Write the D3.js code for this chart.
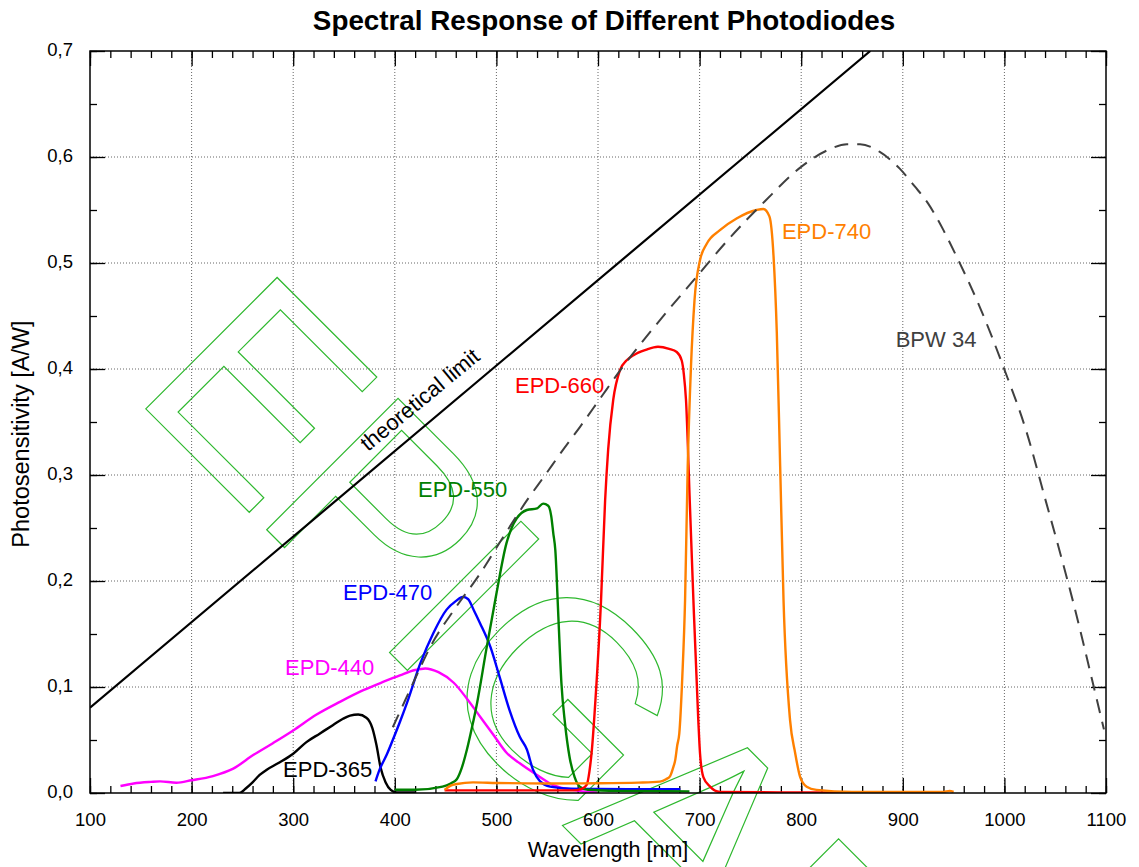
<!DOCTYPE html>
<html><head><meta charset="utf-8">
<script src="https://cdn.jsdelivr.net/npm/d3@7"></script>
<style>
body{margin:0;background:#fff}
svg{display:block}
text{font-family:"Liberation Sans",Arial,sans-serif}
</style>
</head><body>
<svg id="chart" width="1139" height="867"></svg>
<script>
// ---------- data ----------
const chartTitle = "Spectral Response of Different Photodiodes";
const xAxisTitle = "Wavelength [nm]";
const yAxisTitle = "Photosensitivity [A/W]";

const xTickValues = [100,200,300,400,500,600,700,800,900,1000,1100];
const xTickLabels = ["100","200","300","400","500","600","700","800","900","1000","1100"];
const yTickValues = [0,0.1,0.2,0.3,0.4,0.5,0.6,0.7];
const yTickLabels = ["0,0","0,1","0,2","0,3","0,4","0,5","0,6","0,7"];

const theoreticalLimit = [[100,0.0806],[868,0.700]];

const bpw34 = [[398,0.062],[410,0.087],[422,0.112],[435,0.138],[460,0.175],[484,0.207],[507,0.242],[530,0.276],[548,0.300],[565,0.323],[582,0.345],[602,0.372],[622,0.399],[660,0.445],[697,0.487],[730,0.524],[764,0.558],[799,0.590],[825,0.606],[845,0.612],[858,0.612],[877,0.605],[897,0.589],[912,0.572],[925,0.556],[940,0.531],[953,0.506],[976,0.458],[999,0.402],[1022,0.340],[1040,0.278],[1055,0.226],[1068,0.179],[1087,0.104],[1098,0.060]];

const epd365 = [[231,0.0],[247,0.0],[253,0.004],[260,0.010],[267,0.017],[274,0.022],[285,0.028],[300,0.037],[313,0.048],[326,0.056],[339,0.064],[349,0.070],[356,0.073],[364,0.074],[372,0.071],[378,0.061],[382,0.045],[386,0.024],[391,0.010],[396,0.003],[402,0.0005],[420,0.0005]];

const epd440 = [[130,0.0066],[143,0.009],[160,0.0105],[169,0.011],[185,0.0097],[200,0.012],[221,0.016],[241,0.023],[261,0.036],[280,0.047],[300,0.059],[323,0.074],[346,0.086],[369,0.097],[389,0.105],[405,0.111],[420,0.116],[430,0.1175],[443,0.114],[458,0.104],[471,0.089],[484,0.072],[497,0.055],[510,0.038],[523,0.028],[540,0.017],[556,0.0075],[575,0.003],[599,0.0005]];

const epd470 = [[381,0.011],[385,0.022],[392,0.036],[398,0.050],[405,0.067],[412,0.085],[425,0.122],[438,0.151],[451,0.173],[460,0.181],[467,0.185],[472,0.183],[478,0.172],[484,0.160],[494,0.138],[503,0.110],[513,0.078],[523,0.053],[530,0.041],[536,0.022],[543,0.011],[553,0.006],[569,0.0044],[600,0.0038],[640,0.0035],[681,0.0035]];

const epd550 = [[400,0.003],[420,0.003],[447,0.006],[455,0.009],[461,0.013],[466,0.024],[471,0.041],[476,0.062],[481,0.085],[490,0.135],[500,0.188],[510,0.236],[515,0.250],[520,0.259],[530,0.267],[540,0.2685],[546,0.273],[551,0.271],[554,0.261],[556,0.245],[558,0.229],[561,0.166],[564,0.1035],[567.5,0.066],[572,0.034],[577,0.015],[582,0.006],[590,0.003],[620,0.002],[690,0.0015]];

const epd660 = [[449,0.0025],[520,0.0025],[575,0.0025],[584,0.004],[589,0.008],[591.5,0.02],[594,0.041],[597.5,0.088],[603,0.182],[607,0.276],[610,0.324],[615,0.371],[621.6,0.399],[628,0.408],[635,0.413],[647,0.418],[659,0.421],[670,0.419],[677.5,0.416],[682.4,0.408],[684.5,0.395],[686.6,0.371],[690.3,0.276],[693.9,0.182],[698.7,0.069],[700.4,0.0375],[703.7,0.015],[710.3,0.006],[720,0.001],[780,0.0005],[853,0.0005]];

const epd740 = [[449,0.003],[455,0.007],[461,0.0085],[477,0.010],[500,0.0095],[550,0.0090],[600,0.0092],[640,0.0098],[661,0.0107],[667,0.013],[671,0.016],[674,0.024],[676,0.031],[678,0.045],[680,0.056],[683,0.11],[685.7,0.182],[688.3,0.308],[691.5,0.402],[695,0.465],[700.5,0.503],[706.9,0.518],[720,0.531],[736.4,0.542],[756,0.550],[762.8,0.551],[768.7,0.544],[772.8,0.506],[776,0.434],[779.3,0.308],[782.6,0.182],[789,0.069],[794,0.038],[799,0.015],[805.4,0.006],[815,0.003],[850,0.001],[940,0.001],[946,0.002],[950,0.001]];

const seriesNames = ["EPD-365","EPD-440","EPD-470","EPD-550","EPD-660","EPD-740","BPW 34"];
const seriesData  = [epd365, epd440, epd470, epd550, epd660, epd740, bpw34];
const seriesColors = ["#000000","#ff00ff","#0000ff","#008000","#ff0000","#ff8000","#404040"];
// label anchors (data coordinates)
const labelAnchors = [[290,0.0151],[292,0.1113],[349,0.182],[422.8,0.279],[518.3,0.377],[781,0.5226],[893,0.4208]];
const limitLabel = "theoretical limit";
const watermarkLetters = ["E","P","I","G","A","P"];
const watermarkOffsets = [370,541,712,785,981,1164];

// ---------- layout ----------
const L = 90, R = 1106, T = 51, B = 793;
const svg = d3.select("#chart");
const x = d3.scaleLinear().domain([100,1100]).range([L,R]);
const y = d3.scaleLinear().domain([0,0.7]).range([B,T]);

// watermark
const wm = svg.append("g").attr("transform","rotate(45)");
watermarkLetters.forEach((ch,i)=>{
  wm.append("text").attr("x",watermarkOffsets[i]).attr("y",186)
    .attr("font-size",270).attr("fill","none")
    .attr("stroke","#2eb82e").attr("stroke-width",1.2).text(ch);
});

// grid
const grid = svg.append("g").attr("stroke","#666").attr("stroke-width",1).attr("stroke-dasharray","1,2");
xTickValues.slice(1,-1).forEach(v=>grid.append("line").attr("x1",x(v)).attr("x2",x(v)).attr("y1",T).attr("y2",B));
yTickValues.slice(1,-1).forEach(v=>grid.append("line").attr("y1",y(v)).attr("y2",y(v)).attr("x1",L).attr("x2",R));

// axes
const minorX = d3.range(100,1101,20);
const minorY = d3.range(0,0.7001,0.05);
function styleAxis(g){ g.select(".domain").remove(); g.selectAll("line").attr("stroke","#000").attr("stroke-width",1.3); }
svg.append("g").attr("transform",`translate(0,${B})`)
  .call(d3.axisBottom(x).tickValues(minorX).tickSize(-7).tickFormat(""))
  .call(styleAxis);
svg.append("g").attr("transform",`translate(0,${T})`)
  .call(d3.axisTop(x).tickValues(minorX).tickSize(-7).tickFormat(""))
  .call(styleAxis);
svg.append("g").attr("transform",`translate(${L},0)`)
  .call(d3.axisLeft(y).tickValues(minorY).tickSize(-7).tickFormat(""))
  .call(styleAxis);
svg.append("g").attr("transform",`translate(${R},0)`)
  .call(d3.axisRight(y).tickValues(minorY).tickSize(-7).tickFormat(""))
  .call(styleAxis);

const xb = svg.append("g").attr("transform",`translate(0,${B})`)
  .call(d3.axisBottom(x).tickValues(xTickValues).tickSize(-15).tickPadding(20).tickFormat((d,i)=>xTickLabels[i]))
  .call(styleAxis);
svg.append("g").attr("transform",`translate(0,${T})`)
  .call(d3.axisTop(x).tickValues(xTickValues).tickSize(-15).tickFormat(""))
  .call(styleAxis);
const yl = svg.append("g").attr("transform",`translate(${L},0)`)
  .call(d3.axisLeft(y).tickValues(yTickValues).tickSize(-15).tickPadding(17).tickFormat((d,i)=>yTickLabels[i]))
  .call(styleAxis);
svg.append("g").attr("transform",`translate(${R},0)`)
  .call(d3.axisRight(y).tickValues(yTickValues).tickSize(-15).tickFormat(""))
  .call(styleAxis);
[xb,yl].forEach(g=>g.selectAll("text").attr("font-size",18.5).attr("fill","#000")
  .attr("font-family","'Liberation Sans',Arial,sans-serif"));
yl.selectAll("text").attr("dy","0.25em");

// clip
svg.append("clipPath").attr("id","plotclip").append("rect")
  .attr("x",L).attr("y",T).attr("width",R-L).attr("height",B-T);
const plot = svg.append("g").attr("clip-path","url(#plotclip)");

const line = d3.line().x(d=>x(d[0])).y(d=>y(d[1])).curve(d3.curveMonotoneX);

plot.append("path").datum(theoreticalLimit).attr("d",d3.line().x(d=>x(d[0])).y(d=>y(d[1])))
  .attr("fill","none").attr("stroke","#000").attr("stroke-width",2.2);

seriesData.forEach((s,i)=>{
  const p = plot.append("path").datum(s).attr("d",line)
    .attr("fill","none").attr("stroke",seriesColors[i]).attr("stroke-width",2.4)
    .attr("stroke-linejoin","round");
  if(seriesNames[i]==="BPW 34") p.attr("stroke-dasharray","14,9").attr("stroke-width",2);
});

// frame
svg.append("rect").attr("x",L).attr("y",T).attr("width",R-L).attr("height",B-T)
  .attr("fill","none").attr("stroke","#000").attr("stroke-width",1.5);

// series labels
seriesNames.forEach((n,i)=>{
  svg.append("text").attr("x",x(labelAnchors[i][0])).attr("y",y(labelAnchors[i][1]))
    .attr("font-size",22).attr("fill",seriesColors[i]).text(n);
});
svg.append("text").attr("transform","translate(424.5,405.4) rotate(-39.5)")
  .attr("text-anchor","middle").attr("font-size",22).attr("fill","#000").text(limitLabel);

// titles
svg.append("text").attr("x",604).attr("y",30).attr("text-anchor","middle")
  .attr("font-size",27.8).attr("font-weight","bold").text(chartTitle);
svg.append("text").attr("x",608).attr("y",857).attr("text-anchor","middle")
  .attr("font-size",21.5).text(xAxisTitle);
svg.append("text").attr("transform","translate(29,434) rotate(-90)").attr("text-anchor","middle")
  .attr("font-size",23.5).text(yAxisTitle);
</script>
</body></html>
